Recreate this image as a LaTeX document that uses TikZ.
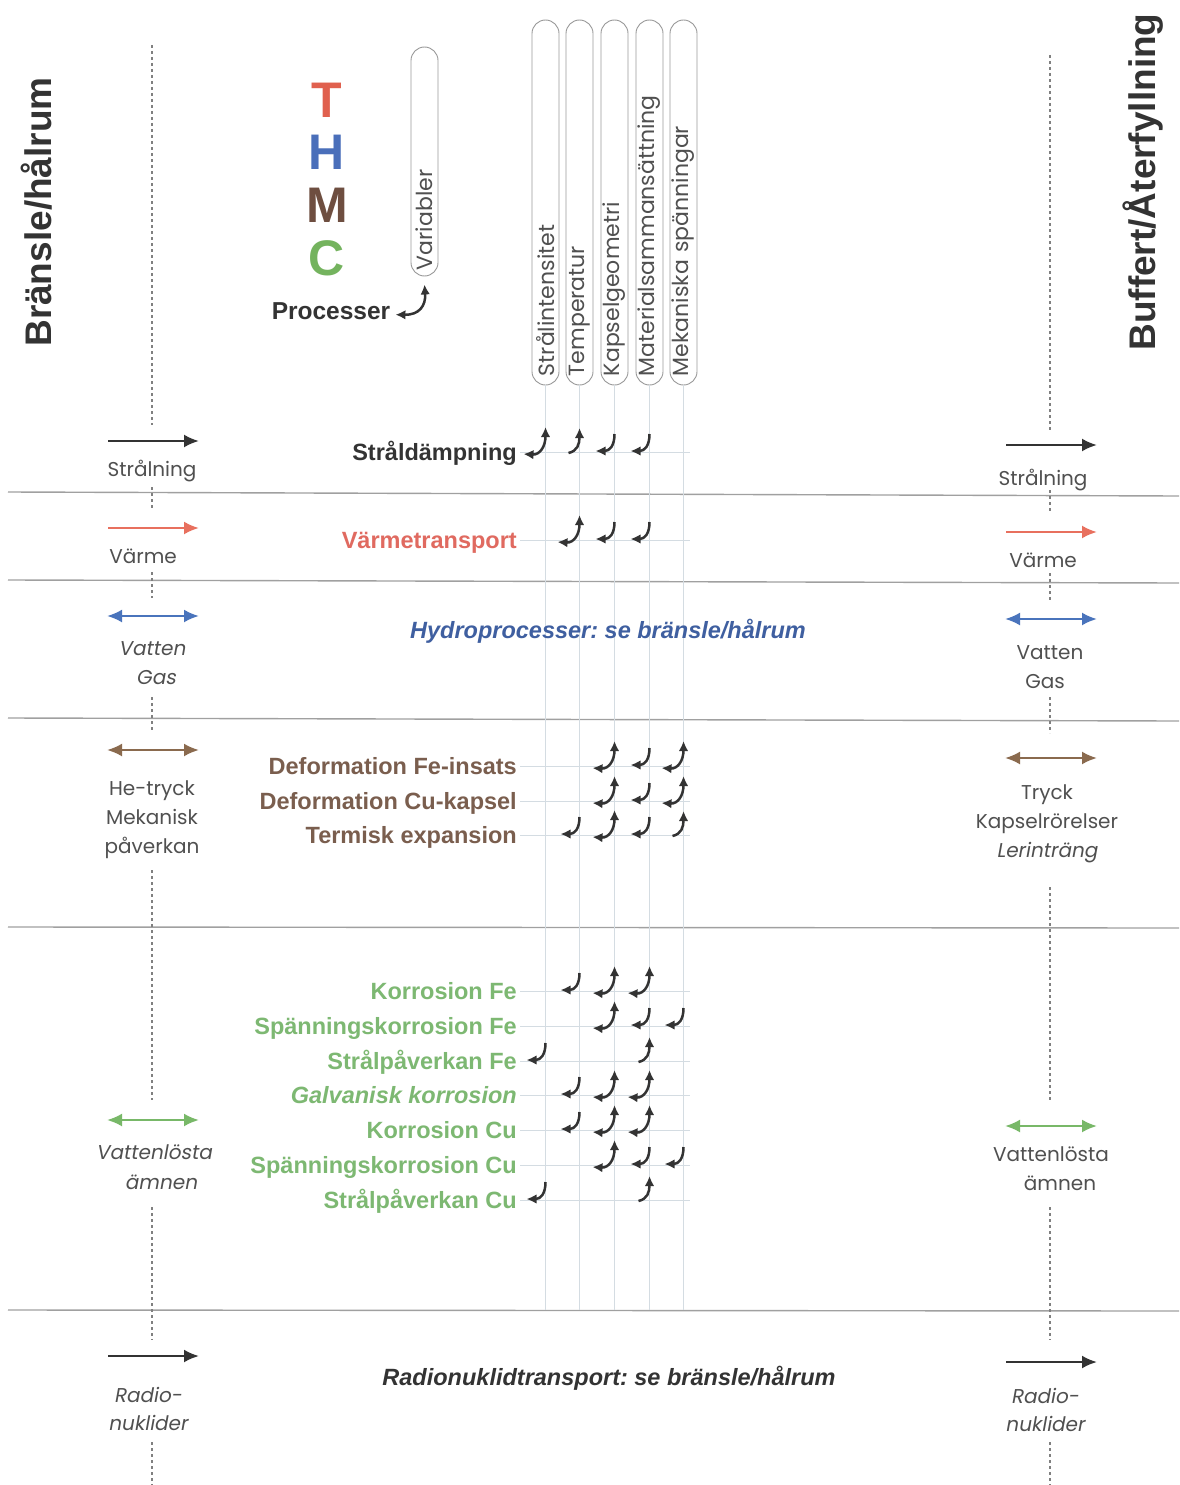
\documentclass[tikz,border=0pt]{standalone}
\usepackage{fontspec}
\setmainfont{Liberation Sans}
\newfontfamily\geo{Poppins}
\newfontfamily\geoit{Poppins}[FakeSlant=0.18]
\newfontfamily\arial{Liberation Sans}
\usetikzlibrary{arrows.meta}
\frenchspacing

\definecolor{ink}{HTML}{333333}
\definecolor{soft}{HTML}{505050}
\definecolor{sep}{HTML}{A0A0A0}
\definecolor{pillc}{HTML}{9A9A9A}
\definecolor{gridc}{HTML}{D4DCE2}
\definecolor{tred}{HTML}{E0604E}
\definecolor{hblue}{HTML}{4A6FBA}
\definecolor{mbrown}{HTML}{6E4E40}
\definecolor{cgreen}{HTML}{74B35E}
\definecolor{procbrown}{HTML}{7A5E4E}
\definecolor{procgreen}{HTML}{7DB872}
\definecolor{procred}{HTML}{E06A60}
\definecolor{procblue}{HTML}{3F5FA0}
\definecolor{arrred}{HTML}{E8705E}
\definecolor{arrblue}{HTML}{4A74BC}
\definecolor{arrbrown}{HTML}{8A6A4E}
\definecolor{arrgreen}{HTML}{78B868}

% column axes of the variables
\newcommand{\xA}{545.5}
\newcommand{\xB}{579.5}
\newcommand{\xC}{614.5}
\newcommand{\xD}{649.5}
\newcommand{\xE}{683.5}

% small influence hooks: L = down-left, U = up, A = left and up
\newcommand{\hookL}[2]{\draw[glyph,-{hk}] (#1,#2-18) .. controls (#1,#2-6) and (#1-5,#2-1) .. (#1-19,#2-1);}
\newcommand{\hookU}[2]{\draw[glyph,-{hk}] (#1-11,#2+1) .. controls (#1-2,#2-1) and (#1,#2-8) .. (#1,#2-24);}
\newcommand{\hookA}[2]{\draw[glyph,{hk}-{hk}] (#1-22,#2+2) .. controls (#1-6,#2+3) and (#1,#2-5) .. (#1,#2-25);}

\tikzset{
  hk/.tip={Latex[length=10pt,width=9.5pt]},
  big/.tip={Latex[length=15pt,width=13pt]},
  glyph/.style={draw=ink, line width=2.5pt},
  lbl/.style={font=\geo\fontsize{20}{24}\selectfont, text=soft, inner sep=1pt, anchor=base},
  lblit/.style={lbl, font=\geoit\fontsize{20}{24}\selectfont},
  proc/.style={font=\arial\bfseries\fontsize{23.5}{28}\selectfont, inner sep=1pt, anchor=base east},
  pill/.style={draw=pillc, line width=0.9pt, rounded corners=13.5pt, rotate=90,
    minimum height=27pt, inner ysep=0pt, align=left,
    font=\geo\fontsize{22}{24}\selectfont, text=soft},
  sepline/.style={draw=sep, line width=1.4pt},
  axis/.style={draw=gray, line width=1.1pt, dash pattern=on 3pt off 3pt},
  gridline/.style={draw=gridc, line width=1pt},
  side/.style={line width=2.4pt, -{big}},
  sidetwo/.style={line width=2.4pt, {big}-{big}},
  title/.style={font=\arial\bfseries\fontsize{37}{40}\selectfont, text=ink, rotate=90},
  thmc/.style={font=\arial\bfseries\fontsize{50}{54}\selectfont}
}

\begin{document}
\begin{tikzpicture}[x=1pt,y=-1pt]
\useasboundingbox (0,0) rectangle (1179,1485);
\fill[white] (0,0) rectangle (1179,1485);

% zone separators
\draw[sepline] (8,492) -- (1179,496);
\draw[sepline] (8,580) -- (1179,583);
\draw[sepline] (8,718) -- (1179,721);
\draw[sepline] (8,927) -- (1179,928);
\draw[sepline] (8,1310) -- (1179,1311);

% boundary axes (dashed), broken around the flux labels
\foreach \a/\b in {45/425, 487/508, 572/598, 697/732, 870/1100, 1207/1340, 1442/1485}
  \draw[axis] (152,\a) -- (152,\b);
\foreach \a/\b in {55/430, 490/512, 573/600, 697/733, 887/1100, 1207/1340, 1442/1485}
  \draw[axis] (1050,\a) -- (1050,\b);

% titles
\node[title] (tleft) at (37,212) {Bränsle/hålrum};
\node[title] (tright) at (1143,182) {Buffert/Återfyllning};

% THMC legend
\node[thmc, text=tred] (lt) at (327,100) {T};
\node[thmc, text=hblue] (lh) at (327,152) {H};
\node[thmc, text=mbrown] (lm) at (327,205) {M};
\node[thmc, text=cgreen] (lc) at (327,258) {C};
\node[font=\arial\bfseries\fontsize{24.5}{28}\selectfont, text=ink, anchor=base, inner sep=1pt] (processer) at (331,319) {Processer};

% variable pills
\node[pill, text width=217pt, inner xsep=6pt] (var) at (424.5,161.5) {Variabler};
\node[pill, text width=347pt, inner xsep=9pt] (v1) at (\xA,202.5) {Strålintensitet};
\node[pill, text width=347pt, inner xsep=9pt] (v2) at (\xB,202.5) {Temperatur};
\node[pill, text width=347pt, inner xsep=9pt] (v3) at (\xC,202.5) {Kapselgeometri};
\node[pill, text width=347pt, inner xsep=9pt] (v4) at (\xD,202.5) {Materialsammansättning};
\node[pill, text width=347pt, inner xsep=9pt] (v5) at (\xE,202.5) {Mekaniska spänningar};

\draw[glyph,{hk}-{hk}]
  ([xshift=4pt,yshift=-4pt]processer.east) .. controls (419,315) and (426,306) .. ([yshift=-8pt]var.west);

% grid behind the hooks
\foreach \v in {v1,v2,v3,v4,v5}
  \draw[gridline] (\v.west) -- ++(0,925);
\foreach \r in {452,540,766,801,835,991,1026,1061,1095,1130,1165,1200}
  \draw[gridline] (520,\r) -- (690,\r);

% process labels
\node[proc, text=ink] (p1) at (518,460) {Stråldämpning};
\node[proc, text=procred] (p2) at (518,548) {Värmetransport};
\node[font=\arial\bfseries\itshape\fontsize{23.5}{28}\selectfont, text=procblue, anchor=base, inner sep=1pt] (p3) at (608,638.5) {Hydroprocesser: se bränsle/hålrum};
\node[proc, text=procbrown] (p4) at (518,774) {Deformation Fe-insats};
\node[proc, text=procbrown] (p5) at (518,809) {Deformation Cu-kapsel};
\node[proc, text=procbrown] (p6) at (518,843) {Termisk expansion};
\node[proc, text=procgreen] (p7) at (518,999) {Korrosion Fe};
\node[proc, text=procgreen] (p8) at (518,1034) {Spänningskorrosion Fe};
\node[proc, text=procgreen] (p9) at (518,1069) {Strålpåverkan Fe};
\node[proc, text=procgreen, font=\arial\bfseries\itshape\fontsize{23.5}{28}\selectfont] (p10) at (518,1103) {Galvanisk korrosion};
\node[proc, text=procgreen] (p11) at (518,1138) {Korrosion Cu};
\node[proc, text=procgreen] (p12) at (518,1173) {Spänningskorrosion Cu};
\node[proc, text=procgreen] (p13) at (518,1208) {Strålpåverkan Cu};
\node[font=\arial\bfseries\itshape\fontsize{23.5}{28}\selectfont, text=ink, anchor=base, inner sep=1pt] (p14) at (609,1385.5) {Radionuklidtransport: se bränsle/hålrum};

% influence hooks per process
\hookA{\xA}{452} \hookU{\xB}{452} \hookL{\xC}{452} \hookL{\xD}{452}
\hookA{\xB}{540} \hookL{\xC}{540} \hookL{\xD}{540}
\hookA{\xC}{766} \hookL{\xD}{766} \hookA{\xE}{766}
\hookA{\xC}{801} \hookL{\xD}{801} \hookA{\xE}{801}
\hookL{\xB}{835} \hookA{\xC}{835} \hookL{\xD}{835} \hookU{\xE}{835}
\hookL{\xB}{991} \hookA{\xC}{991} \hookA{\xD}{991}
\hookA{\xC}{1026} \hookL{\xD}{1026} \hookL{\xE}{1026}
\hookL{\xA}{1061} \hookU{\xD}{1061}
\hookL{\xB}{1095} \hookA{\xC}{1095} \hookA{\xD}{1095}
\hookL{\xB}{1130} \hookA{\xC}{1130} \hookA{\xD}{1130}
\hookA{\xC}{1165} \hookL{\xD}{1165} \hookL{\xE}{1165}
\hookL{\xA}{1200} \hookU{\xD}{1200}

% fluxes on the fuel side
\draw[side, draw=ink] (108,441) -- (199,441);
\node[lbl] (ls1) at (152,476) {Strålning};
\draw[side, draw=arrred] (108,528) -- (199,528);
\node[lbl] (ls2) at (143,563) {Värme};
\draw[sidetwo, draw=arrblue] (107,616) -- (199,616);
\node[lblit] (ls3) at (152,655) {Vatten};
\node[lblit] (ls4) at (156,684) {Gas};
\draw[sidetwo, draw=arrbrown] (107,750) -- (199,750);
\node[lbl] (ls5) at (152,795) {He-tryck};
\node[lbl] (ls6) at (152,824) {Mekanisk};
\node[lbl] (ls7) at (152,853) {påverkan};
\draw[sidetwo, draw=arrgreen] (107,1120) -- (199,1120);
\node[lblit] (ls8) at (154,1159) {Vattenlösta};
\node[lblit] (ls9) at (161,1189) {ämnen};
\draw[side, draw=ink] (108,1356) -- (199,1356);
\node[lblit] (ls10) at (148,1402) {Radio-};
\node[lblit] (ls11) at (148,1430) {nuklider};

% fluxes on the buffer side
\draw[side, draw=ink] (1006,445) -- (1097,445);
\node[lbl] (rs1) at (1043,485) {Strålning};
\draw[side, draw=arrred] (1006,532) -- (1097,532);
\node[lbl] (rs2) at (1043,567) {Värme};
\draw[sidetwo, draw=arrblue] (1005,619) -- (1097,619);
\node[lbl] (rs3) at (1050,659) {Vatten};
\node[lbl] (rs4) at (1045,688) {Gas};
\draw[sidetwo, draw=arrbrown] (1005,758) -- (1097,758);
\node[lbl] (rs5) at (1047,799) {Tryck};
\node[lbl] (rs6) at (1047,828) {Kapselrörelser};
\node[lblit] (rs7) at (1047,857) {Lerinträng};
\draw[sidetwo, draw=arrgreen] (1005,1126) -- (1097,1126);
\node[lbl] (rs8) at (1051,1161) {Vattenlösta};
\node[lbl] (rs9) at (1060,1190) {ämnen};
\draw[side, draw=ink] (1006,1362) -- (1097,1362);
\node[lblit] (rs10) at (1045,1403) {Radio-};
\node[lblit] (rs11) at (1045,1431) {nuklider};
\end{tikzpicture}
\end{document}
